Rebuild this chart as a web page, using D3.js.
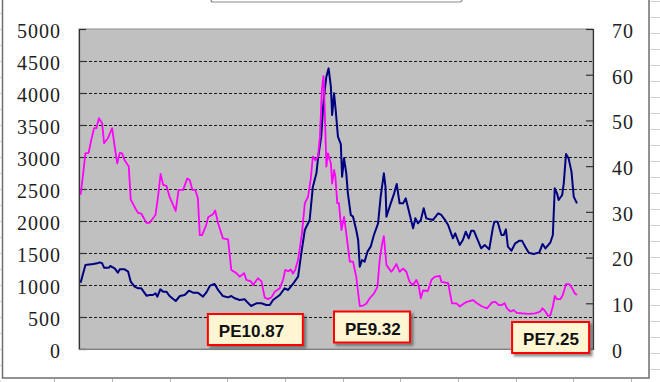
<!DOCTYPE html>
<html><head><meta charset="utf-8">
<script src="https://cdn.jsdelivr.net/npm/d3@7"></script>
<style>html,body{margin:0;padding:0;background:#fff;}svg{display:block;}</style>
</head><body>
<script>
// ---- data (years since start are approximate) ----
const idxYears = [0.05,0.20,0.44,0.57,0.64,0.72,0.78,0.93,0.97,1.11,
1.21,1.27,1.42,1.53,1.61,1.73,1.84,1.94,2.10,2.20,
2.30,2.38,2.44,2.53,2.62,2.72,2.82,3.01,3.14,3.29,
3.42,3.55,3.70,3.86,3.96,4.08,4.22,4.33,4.48,4.64,
4.74,4.85,5.00,5.16,5.24,5.36,5.52,5.68,5.83,5.94,
6.04,6.25,6.40,6.51,6.66,6.82,6.92,7.03,7.18,7.28,
7.39,7.44,7.54,7.60,7.65,7.70,7.77,7.84,7.88,7.94,
7.99,8.06,8.15,8.19,8.25,8.32,8.37,8.46,8.53,8.63,
8.69,8.74,8.81,8.89,8.98,9.08,9.18,9.31,9.39,9.49,
9.54,9.57,9.67,9.81,9.89,9.98,10.09,10.17,10.26,10.40,
10.47,10.55,10.64,10.73,10.81,10.92,11.02,11.18,11.28,11.38,
11.49,11.64,11.71,11.85,11.95,12.04,12.13,12.21,12.29,12.39,
12.52,12.63,12.77,12.88,12.93,13.03,13.15,13.22,13.29,13.35,
13.46,13.58,13.71,13.79,13.89,14.00,14.15,14.33,14.43,14.52,
14.67,14.75,14.81,14.88,14.93,15.04,15.09,15.16,15.24,15.33,
15.40,15.50];
const idxValues = [1036,1312,1328,1339,1354,1339,1271,1271,1297,1260,
1193,1245,1245,1208,1052,974,948,948,833,844,
844,870,818,932,896,896,828,750,828,844,
911,880,880,818,880,990,1016,922,828,807,
828,792,766,776,729,672,714,714,688,688,
766,844,948,922,1016,1130,1495,1859,2016,2536,
2745,2979,3318,3786,4047,4255,4385,4099,3656,3995,
3734,3318,3200,2693,2979,2745,2432,2094,2068,1859,
1703,1286,1391,1365,1521,1599,1781,1964,2380,2745,
2536,2068,2224,2432,2578,2276,2276,2354,2172,1885,
2042,1964,2016,2198,2042,2026,2016,2120,2094,2026,
1937,1729,1807,1625,1703,1833,1729,1849,1849,1729,
1573,1625,1557,1885,1989,1989,1781,1781,1870,1599,
1536,1651,1693,1693,1599,1505,1484,1510,1641,1573,
1661,1781,2510,2432,2328,2406,2589,3047,2979,2771,
2380,2276];
const peYears = [0.05,0.13,0.20,0.30,0.38,0.47,0.54,0.62,0.72,0.78,
0.90,1.03,1.11,1.19,1.27,1.34,1.42,1.55,1.61,1.75,
1.84,1.94,2.10,2.20,2.38,2.46,2.54,2.62,2.72,2.82,
3.01,3.10,3.24,3.37,3.45,3.53,3.62,3.70,3.76,3.83,
3.96,4.02,4.17,4.24,4.33,4.48,4.64,4.74,4.90,5.00,
5.14,5.21,5.35,5.42,5.57,5.68,5.78,5.88,5.99,6.09,
6.25,6.35,6.42,6.51,6.59,6.66,6.73,6.82,6.94,7.03,
7.13,7.21,7.28,7.36,7.44,7.50,7.56,7.61,7.65,7.70,
7.75,7.84,7.88,7.94,7.98,8.04,8.09,8.17,8.25,8.32,
8.43,8.53,8.63,8.74,8.84,8.94,9.05,9.18,9.29,9.36,
9.43,9.49,9.57,9.72,9.77,9.88,9.98,10.09,10.19,10.29,
10.40,10.50,10.57,10.64,10.71,10.86,10.97,11.07,11.23,11.28,
11.49,11.61,11.75,11.85,11.95,12.06,12.13,12.26,12.39,12.55,
12.70,12.86,12.96,13.07,13.15,13.25,13.32,13.43,13.53,13.63,
13.79,14.00,14.20,14.36,14.43,14.52,14.60,14.67,14.75,14.81,
14.88,14.98,15.06,15.16,15.26,15.35,15.43,15.50];
const peValues = [33.7,38.4,42.8,42.9,45.7,48.3,48.3,50.5,49.4,45.0,
46.1,48.3,44.3,40.6,42.9,42.8,41.3,39.9,32.7,30.8,
29.8,29.6,27.6,27.6,29.3,33.3,38.3,35.9,35.7,33.3,
30.2,34.8,34.8,37.3,36.9,34.8,34.8,33.0,24.9,24.9,
27.1,28.8,29.5,30.3,27.5,24.2,24.0,17.3,16.6,15.8,
16.6,15.1,14.8,14.0,15.5,14.8,11.3,10.9,11.3,12.5,
13.3,15.1,17.3,17.0,17.4,16.5,17.3,19.5,25.3,31.9,
33.3,37.0,42.1,41.3,42.1,46.4,56.7,59.7,52.3,39.9,
42.8,40.6,36.2,39.2,37.7,31.9,31.9,26.0,28.9,25.3,
19.1,19.1,15.8,9.4,9.5,9.9,11.1,12.1,13.6,19.5,
22.8,24.7,18.4,16.9,17.3,18.6,16.9,17.6,16.9,14.7,
14.0,15.1,14.0,11.1,12.8,12.7,15.1,15.8,16.0,14.7,
14.4,10.0,10.0,9.3,9.8,10.3,10.4,10.7,10.0,9.3,
8.9,10.2,10.3,9.6,9.6,10.0,8.9,8.2,8.5,7.9,
7.8,7.7,7.8,8.2,8.9,8.2,7.2,7.4,9.3,11.6,
10.9,10.9,11.8,14.2,14.2,13.3,12.2,11.8];
const leftTicks = [0,500,1000,1500,2000,2500,3000,3500,4000,4500,5000];
const rightTicks = [0,10,20,30,40,50,60,70];
const annoLabels = ["PE10.87","PE9.32","PE7.25"];
const annoYears = [5.49,9.12,14.68];   // box centre, years
const annoPE = [4.27,4.81,2.52];        // box centre, on the PE axis
const annoWidths = [95,76,77];

// ---- layout ----
const W = 660, H = 382;
const plot = {l:79, r:593, t:29, b:349};
const svg = d3.select("body").append("svg").attr("width",W).attr("height",H);

const defs = svg.append("defs");
const f = defs.append("filter").attr("id","sh").attr("x","-20%").attr("y","-20%").attr("width","150%").attr("height","160%");
f.append("feDropShadow").attr("dx",2.5).attr("dy",2.5).attr("stdDeviation",1.3).attr("flood-color","#444").attr("flood-opacity",0.6);

const x = d3.scaleLinear().domain([0,16]).range([plot.l, plot.r]);
const yL = d3.scaleLinear().domain([0,5000]).range([plot.b, plot.t]);
const yR = d3.scaleLinear().domain([0,70]).range([plot.b, plot.t]);

// spreadsheet cell lines outside the chart frame
const sheet = svg.append("g").attr("stroke","#cfcfcf").attr("stroke-width",1);
d3.range(0,24).forEach(k=>{
  sheet.append("line").attr("x1",650.5).attr("x2",W).attr("y1",1.5+16*k).attr("y2",1.5+16*k);
  sheet.append("line").attr("x1",0).attr("x2",1.5).attr("y1",13.5+16*k).attr("y2",13.5+16*k);
});
d3.range(0,11).forEach(k=>{
  const xx = Math.round(54.3+57.67*k)+0.5;
  sheet.append("line").attr("x1",xx).attr("x2",xx).attr("y1",379).attr("y2",H).attr("stroke","#b5b5b5");
});

// chart frame
svg.append("rect").attr("x",2.5).attr("y",-5).attr("width",646.5).attr("height",383)
  .attr("fill","#fff").attr("stroke","#6e6e6e").attr("stroke-width",1.5);

// legend box (cut off at top)
svg.append("rect").attr("x",211).attr("y",-20).attr("width",251).attr("height",22).attr("rx",2)
  .attr("fill","#fff").attr("stroke","#8a8a8a").attr("stroke-width",1.2);

// plot area
svg.append("rect").attr("x",plot.l).attr("y",plot.t).attr("width",plot.r-plot.l).attr("height",plot.b-plot.t)
  .attr("fill","#c0c0c0").attr("stroke","#8c8c8c").attr("stroke-width",1);

// gridlines
svg.append("g").selectAll("line").data(leftTicks.filter(d=>d>0&&d<5000)).join("line")
  .attr("x1",plot.l).attr("x2",plot.r)
  .attr("y1",d=>Math.round(yL(d))+0.5).attr("y2",d=>Math.round(yL(d))+0.5)
  .attr("stroke","#1a1a1a").attr("stroke-width",1).attr("stroke-dasharray","3,2");

// axes
const axL = svg.append("g").attr("transform",`translate(${plot.l},0)`)
  .call(d3.axisLeft(yL).tickValues(leftTicks).tickSize(-7).tickPadding(18).tickFormat(d3.format("d")));
const axR = svg.append("g").attr("transform",`translate(${plot.r},0)`)
  .call(d3.axisRight(yR).tickValues(rightTicks).tickSize(-7).tickPadding(19).tickFormat(d3.format("d")));
[axL,axR].forEach(a=>{
  a.select(".domain").attr("stroke","#333").attr("stroke-width",1.2);
  a.selectAll(".tick line").attr("stroke","#333").attr("stroke-width",1.2);
  a.selectAll("text").attr("font-family","'Liberation Serif','Times New Roman',serif")
    .attr("font-size",20).attr("fill","#222").attr("letter-spacing","1px").attr("dy","0.42em");
});
// bottom line
svg.append("line").attr("x1",plot.l).attr("x2",plot.r).attr("y1",plot.b+0.5).attr("y2",plot.b+0.5)
  .attr("stroke","#808080").attr("stroke-width",1);

// series
const idxData = idxYears.map((t,i)=>[t, idxValues[i]]);
const peData = peYears.map((t,i)=>[t, peValues[i]]);
svg.append("path").datum(idxData)
  .attr("d", d3.line().x(d=>x(d[0])).y(d=>yL(d[1])))
  .attr("fill","none").attr("stroke","#000080").attr("stroke-width",2).attr("stroke-linejoin","round");
svg.append("path").datum(peData)
  .attr("d", d3.line().x(d=>x(d[0])).y(d=>yR(d[1])))
  .attr("fill","none").attr("stroke","#ff00ff").attr("stroke-width",1.8).attr("stroke-linejoin","round");

// annotations
const ann = svg.append("g").selectAll("g").data(annoLabels).join("g")
  .attr("transform",(d,i)=>`translate(${x(annoYears[i])-annoWidths[i]/2},${yR(annoPE[i])-15.5})`);
ann.append("rect").attr("width",(d,i)=>annoWidths[i]).attr("height",31)
  .attr("fill","#fef6d2").attr("stroke","#ff0000").attr("stroke-width",2).attr("filter","url(#sh)");
ann.append("text").attr("x",11).attr("y",23).text(d=>d)
  .attr("font-family","'Liberation Sans',Arial,sans-serif").attr("font-weight","bold")
  .attr("font-size",17).attr("fill","#111");
</script>
</body></html>
